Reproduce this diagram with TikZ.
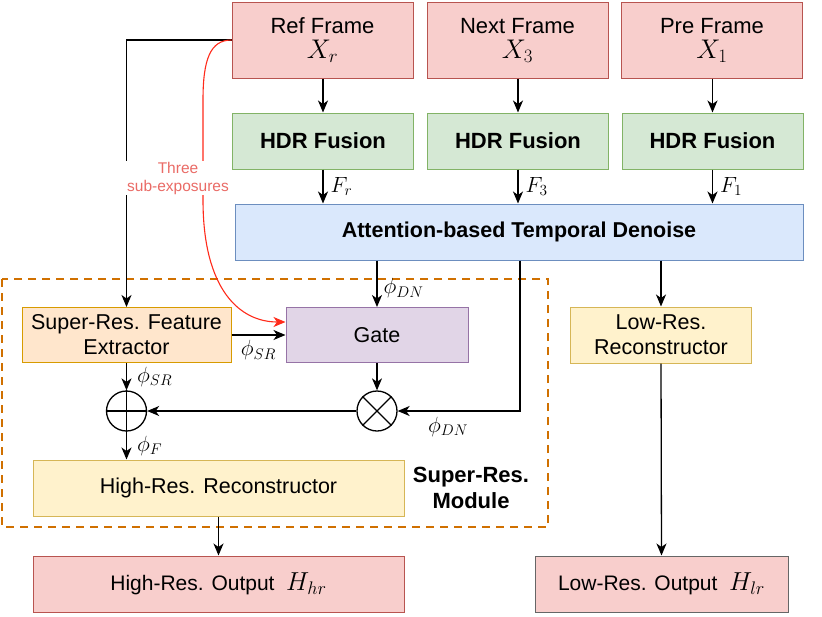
\RequirePackage{fix-cm}
\documentclass[tikz,border=0pt]{standalone}
\usepackage{fontspec}
\setmainfont{Liberation Sans}
\usetikzlibrary{arrows.meta}
\DeclareFontShape{OML}{cmm}{m}{it}{<-6>cmmi5<6-7>cmmi6<7-8>cmmi7<8-9>cmmi8<9-10>cmmi9<10-12>cmmi10<12->cmmi12}{}
\DeclareFontShape{OT1}{cmr}{m}{n}{<-6>cmr5<6-7>cmr6<7-8>cmr7<8-9>cmr8<9-10>cmr9<10-12>cmr10<12-17>cmr12<17->cmr17}{}
\definecolor{redfill}{HTML}{F8CECC}
\definecolor{redline}{HTML}{B85450}
\definecolor{greenfill}{HTML}{D5E8D4}
\definecolor{greenline}{HTML}{82B366}
\definecolor{bluefill}{HTML}{DAE8FC}
\definecolor{blueline}{HTML}{6C8EBF}
\definecolor{orangefill}{HTML}{FFE6CC}
\definecolor{orangeline}{HTML}{D79B00}
\definecolor{purplefill}{HTML}{E1D5E7}
\definecolor{purpleline}{HTML}{9673A6}
\definecolor{yellowfill}{HTML}{FFF2CC}
\definecolor{yellowline}{HTML}{D6B656}
\definecolor{greyline}{HTML}{666666}
\definecolor{dashorange}{HTML}{D07000}
\definecolor{curvered}{HTML}{FF2A1A}
\definecolor{labelred}{HTML}{EA6B66}
\newcommand{\txtsize}{\fontsize{21.5}{25}\selectfont}
\newcommand{\bigtxt}{\fontsize{22}{26}\selectfont}
\newcommand{\mathbig}{\fontsize{27}{29}\selectfont}
\newcommand{\mathlbl}{\fontsize{22}{24}\selectfont}
\begin{document}
\begin{tikzpicture}[x=1pt,y=-1pt,
  box/.style={rectangle, draw, line width=1pt, inner sep=0pt, align=center, font=\txtsize},
  framebox/.style={box, fill=redfill, draw=redline, minimum width=181pt, minimum height=76pt, font=\bigtxt},
  hdrbox/.style={box, fill=greenfill, draw=greenline, minimum width=181pt, minimum height=56pt, font=\bigtxt\bfseries},
  arr/.style={line width=1.3pt, -{Stealth[length=12pt,width=10pt,inset=3.5pt]}},
  lbl/.style={font=\mathlbl, inner sep=0pt},
  opcirc/.style={circle, draw, line width=1.3pt, minimum size=40pt, inner sep=0pt}
]
\useasboundingbox (0,0) rectangle (822,616);

% top frames
\node[framebox] (ref) at (322.5,40) {Ref Frame\\[-1pt]{\mathbig$X_r$}};
\node[framebox] (next) at (517.5,40) {Next Frame\\[-1pt]{\mathbig$X_3$}};
\node[framebox] (pre) at (712,40) {Pre Frame\\[-1pt]{\mathbig$X_1$}};

% HDR fusion
\node[hdrbox] (h1) at (323,141) {HDR Fusion};
\node[hdrbox] (h2) at (518,141) {HDR Fusion};
\node[hdrbox] (h3) at (712.5,141) {HDR Fusion};

% attention
\node[box, fill=bluefill, draw=blueline, minimum width=568pt, minimum height=56pt, font=\txtsize\bfseries] (att) at (519,232) {Attention-based Temporal Denoise};

% dashed module
\draw[dashorange, line width=2pt, dash pattern=on 8pt off 6pt] (2,279) rectangle (548,527);
\node[font=\bigtxt\bfseries, align=center, inner sep=0pt] (srm) at (471,488) {Super-Res.\\Module};

% module contents
\node[box, fill=orangefill, draw=orangeline, minimum width=209pt, minimum height=55pt] (sr) at (126.5,335) {Super-Res. Feature\\Extractor};
\node[box, fill=purplefill, draw=purpleline, minimum width=182pt, minimum height=55pt] (gate) at (377,335) {Gate};
\node[opcirc] (plus) at (126.5,411) {};
\draw[line width=1.3pt] (plus.north) -- (plus.south) (plus.west) -- (plus.east);
\node[opcirc] (times) at (377,411) {};
\draw[line width=1.3pt] (times.north west) -- (times.south east) (times.north east) -- (times.south west);
\node[box, fill=yellowfill, draw=yellowline, minimum width=371pt, minimum height=56pt] (hrr) at (218.5,488) {High-Res. Reconstructor};

% low-res path
\node[box, fill=yellowfill, draw=yellowline, minimum width=181pt, minimum height=56pt] (lrr) at (661,335) {Low-Res.\\Reconstructor};

% outputs
\node[box, fill=redfill, draw=redline, minimum width=371pt, minimum height=56pt, font=\fontsize{21}{25}\selectfont] (hro) at (218.5,584) {High-Res. Output\ \ {\fontsize{26}{29}\selectfont$H_{hr}$}};
\node[box, fill=redfill, draw=greyline, minimum width=253pt, minimum height=56pt, font=\fontsize{21}{25}\selectfont] (lro) at (661.5,584) {Low-Res. Output\ \ {\fontsize{26}{29}\selectfont$H_{lr}$}};

% arrows frames -> HDR
\draw[arr] (ref.south -| h1) -- (h1.north);
\draw[arr] (next.south -| h2) -- (h2.north);
\draw[arr] (pre.south -| h3) -- (h3.north);
% HDR -> attention
\draw[arr] (h1.south) -- (h1.south |- att.north) node[lbl, midway, right=7pt] {$F_r$};
\draw[arr] (h2.south) -- (h2.south |- att.north) node[lbl, midway, right=7pt] {$F_3$};
\draw[arr] (h3.south) -- (h3.south |- att.north) node[lbl, midway, right=7pt] {$F_1$};

% ref -> SR extractor
\coordinate (refl) at (ref.west |- 0,40);
\draw[arr] (refl) -| (sr.north);
% red curve
\draw[curvered, line width=1.1pt, -{Stealth[length=12pt,width=10pt,inset=3.5pt]}]
  (refl) .. controls (210,40) and (203,60) .. (203,100) -- (203,200)
  .. controls (203,290) and (240,322) .. (gate.west |- 0,322);
\node[font=\fontsize{15.5}{18}\selectfont, text=labelred, fill=white, align=center, inner sep=1pt] (three) at (178,178) {Three\\sub-exposures};

% attention -> gate, low-res
\draw[arr] (att.south -| gate) -- (gate.north) node[lbl, pos=0.6, right=6pt] {$\phi_{DN}$};
\draw[arr] (att.south -| lrr) -- (lrr.north);
% attention -> times
\coordinate (br) at (520,411);
\draw[arr] (att.south -| br) -- (br) -- (times.east);
\node[lbl] (pdn2) at (448,427) {$\phi_{DN}$};

% sr -> gate
\draw[arr] (sr.east |- 0,335) -- (gate.west |- 0,335) node[lbl, midway, below=5pt] {$\phi_{SR}$};
% sr -> plus
\draw[arr] (sr.south) -- (plus.north) node[lbl, midway, right=10pt] {$\phi_{SR}$};
% gate -> times
\draw[arr] (gate.south) -- (times.north);
% times -> plus
\draw[arr] (times.west) -- (plus.east);
% plus -> hrr
\draw[arr] (plus.south) -- (plus.south |- hrr.north) node[lbl, midway, right=10pt] {$\phi_F$};
% hrr -> output
\draw[arr] (hrr.south) -- (hro.north);
% lrr -> output
\draw[arr] (lrr.south) -- (lro.north);
\end{tikzpicture}
\end{document}
